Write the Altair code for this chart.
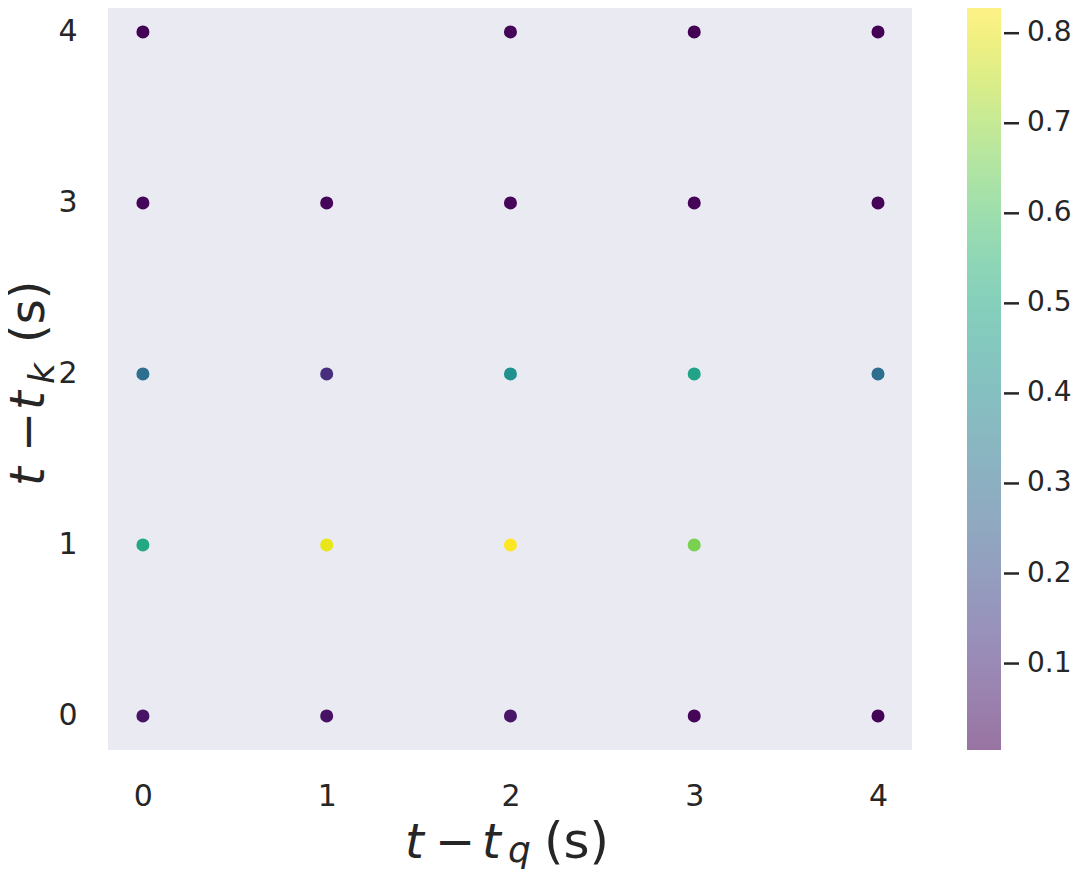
import altair as alt
import pandas as pd

# data
tq = [0, 2, 3, 4,
      0, 1, 2, 3, 4,
      0, 1, 2, 3, 4,
      0, 1, 2, 3,
      0, 1, 2, 3, 4]
tk = [4, 4, 4, 4,
      3, 3, 3, 3, 3,
      2, 2, 2, 2, 2,
      1, 1, 1, 1,
      0, 0, 0, 0, 0]
val = [0.008, 0.012, 0.007, 0.006,
       0.012, 0.012, 0.014, 0.010, 0.010,
       0.300, 0.115, 0.416, 0.480, 0.300,
       0.500, 0.800, 0.828, 0.663,
       0.045, 0.040, 0.048, 0.012, 0.008]
tick_vals = [0, 1, 2, 3, 4]
cbar_ticks = [0.1, 0.2, 0.3, 0.4, 0.5, 0.6, 0.7, 0.8]
cmin, cmax = 0.004, 0.828

df = pd.DataFrame({"tq": tq, "tk": tk, "v": val})
cb = pd.DataFrame({"c": cbar_ticks})
one = pd.DataFrame({"a": [0]})

FONT = "DejaVu Sans"
TXT = "#262626"
LBL = 30
W, H = 804, 742

axis_common = dict(domain=False, ticks=False, grid=False, labelPadding=31,
                   labelFontSize=LBL, labelFont=FONT, labelColor=TXT, title=None)

# plot-area background (seaborn "dark" style)
bg = alt.Chart(one).mark_rect(color="#eaeaf2").encode(
    x=alt.value(0), x2=alt.value(W), y=alt.value(0), y2=alt.value(H)
)

points = alt.Chart(df).mark_circle(size=170, opacity=1).encode(
    x=alt.X("tq:Q", scale=alt.Scale(domain=[-0.19, 4.185], nice=False, zero=False),
            axis=alt.Axis(values=tick_vals, format="d", **axis_common)),
    y=alt.Y("tk:Q", scale=alt.Scale(domain=[-0.199, 4.14], nice=False, zero=False),
            axis=alt.Axis(values=tick_vals, format="d", **axis_common)),
    color=alt.Color("v:Q", scale=alt.Scale(scheme="viridis", domain=[cmin, cmax], nice=False),
                    legend=alt.Legend(title=None, orient="none", legendX=859, legendY=0,
                                      direction="vertical", gradientLength=H,
                                      gradientThickness=34, gradientStrokeWidth=0,
                                      gradientOpacity=0.55,
                                      values=cbar_ticks, format=".1f",
                                      labelFontSize=28, labelFont=FONT, labelColor=TXT,
                                      labelOffset=26, labelOverlap=False)),
)

# colorbar tick dashes, placed through their own scale
cbar_rules = alt.Chart(cb).mark_rule(color=TXT, strokeWidth=2.5).encode(
    y=alt.Y("c:Q", scale=alt.Scale(domain=[cmin, cmax], nice=False, zero=False), axis=None),
    x=alt.value(896), x2=alt.value(911),
)

TS = 48
SUB = 36

def piece(text, x, y, size=TS, italic=False, angle=0):
    kw = dict(text=text, x=x, y=y, fontSize=size, font=FONT, color=TXT,
              align="left", baseline="alphabetic", angle=angle)
    if italic:
        kw["fontStyle"] = "italic"
    return alt.Chart(one).mark_text(**kw).encode(opacity=alt.value(1))

# x-axis title: t − t_q (s)
xparts = [
    piece("t", 297, 850, italic=True),
    piece("−", 327, 850),
    piece("t", 374, 850, italic=True),
    piece("q", 400, 854, size=SUB, italic=True),
    piece("(s)", 436, 850, size=50),
]
# y-axis title (rotated): t − t_k (s)
yparts = [
    piece("t", -64, 478, italic=True, angle=270),
    piece("−", -64, 444, angle=270),
    piece("t", -64, 402, italic=True, angle=270),
    piece("k", -54, 376, size=SUB, italic=True, angle=270),
    piece("(s)", -64, 335, angle=270),
]

chart = alt.layer(bg, points, cbar_rules, *xparts, *yparts).resolve_scale(
    y="independent"
).properties(
    width=W, height=H,
    background="white",
    autosize=alt.AutoSizeParams(type="none"),
    padding={"left": 100, "top": 0, "right": 159, "bottom": 119},
).configure_view(strokeWidth=0)

chart.save("out.html", embed_options={"renderer": "svg", "actions": False})
